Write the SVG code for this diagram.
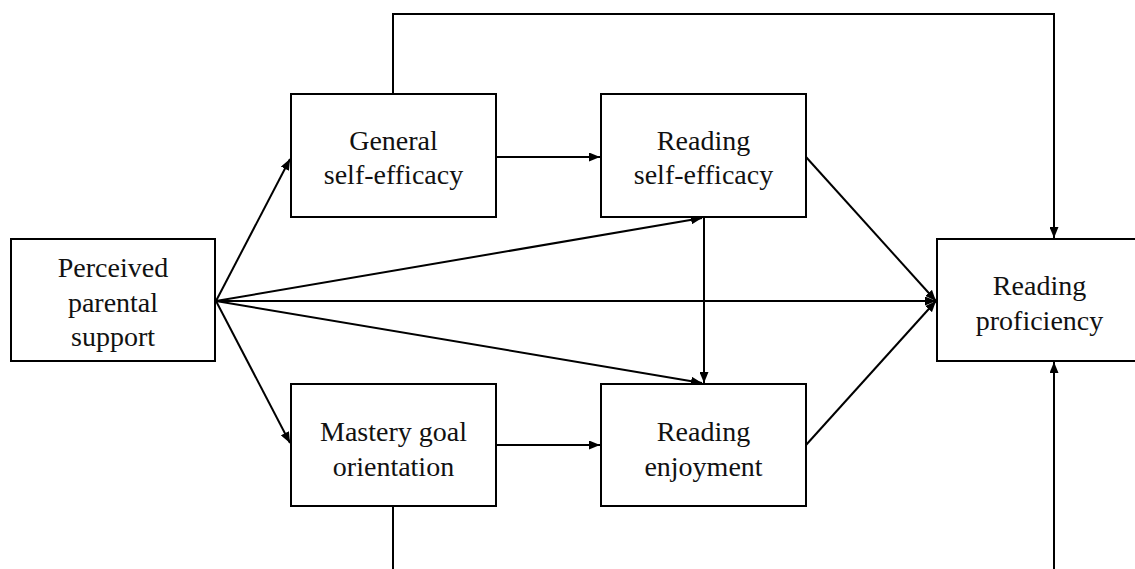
<svg xmlns="http://www.w3.org/2000/svg" width="1135" height="569" viewBox="0 0 1135 569">
<style>
.box{fill:#fff;stroke:#000;stroke-width:2}
.lbl{font-family:"Liberation Serif","Times New Roman",serif;font-size:28px;fill:#111;text-anchor:middle}
.c{fill:none;stroke:#000;stroke-width:2}
</style>
<defs>
<marker id="ah" viewBox="0 0 11 9" refX="11" refY="4.5" markerWidth="11" markerHeight="9" markerUnits="userSpaceOnUse" orient="auto">
<path d="M0,0 L11,4.5 L0,9 Z" fill="#000"/>
</marker>
</defs>
<rect width="1135" height="569" fill="#fff"/>
<g id="connectors">
<path class="c" d="M393,94 V14 H1054 V238" marker-end="url(#ah)"/>
<path class="c" d="M393,506 V571 H1054 V362" marker-end="url(#ah)"/>
<line class="c" x1="216" y1="301" x2="290" y2="159" marker-end="url(#ah)"/>
<line class="c" x1="216" y1="301" x2="290" y2="443" marker-end="url(#ah)"/>
<line class="c" x1="216" y1="301" x2="702" y2="218" marker-end="url(#ah)"/>
<line class="c" x1="216" y1="301" x2="702" y2="383" marker-end="url(#ah)"/>
<line class="c" x1="216" y1="301" x2="936" y2="301" marker-end="url(#ah)"/>
<line class="c" x1="496" y1="157" x2="600" y2="157" marker-end="url(#ah)"/>
<line class="c" x1="496" y1="445" x2="600" y2="445" marker-end="url(#ah)"/>
<line class="c" x1="704" y1="217" x2="704" y2="383" marker-end="url(#ah)"/>
<line class="c" x1="806" y1="157" x2="936" y2="301" marker-end="url(#ah)"/>
<line class="c" x1="806" y1="445" x2="936" y2="301" marker-end="url(#ah)"/>
</g>
<g id="perceived">
<rect class="box" x="11" y="239" width="204" height="122"/>
<text class="lbl" x="113" y="277">Perceived</text>
<text class="lbl" x="113" y="312">parental</text>
<text class="lbl" x="113" y="346">support</text>
</g>
<g id="general">
<rect class="box" x="291" y="94" width="205" height="123"/>
<text class="lbl" x="393.5" y="150">General</text>
<text class="lbl" x="393.5" y="184">self-efficacy</text>
</g>
<g id="readingSE">
<rect class="box" x="601" y="94" width="205" height="123"/>
<text class="lbl" x="703.5" y="150">Reading</text>
<text class="lbl" x="703.5" y="184">self-efficacy</text>
</g>
<g id="mastery">
<rect class="box" x="291" y="384" width="205" height="122"/>
<text class="lbl" x="393.5" y="441">Mastery goal</text>
<text class="lbl" x="393.5" y="476">orientation</text>
</g>
<g id="enjoyment">
<rect class="box" x="601" y="384" width="205" height="122"/>
<text class="lbl" x="703.5" y="441">Reading</text>
<text class="lbl" x="703.5" y="476">enjoyment</text>
</g>
<g id="proficiency">
<rect class="box" x="937" y="239" width="210" height="122"/>
<text class="lbl" x="1039.5" y="295">Reading</text>
<text class="lbl" x="1039.5" y="330">proficiency</text>
</g>
</svg>
